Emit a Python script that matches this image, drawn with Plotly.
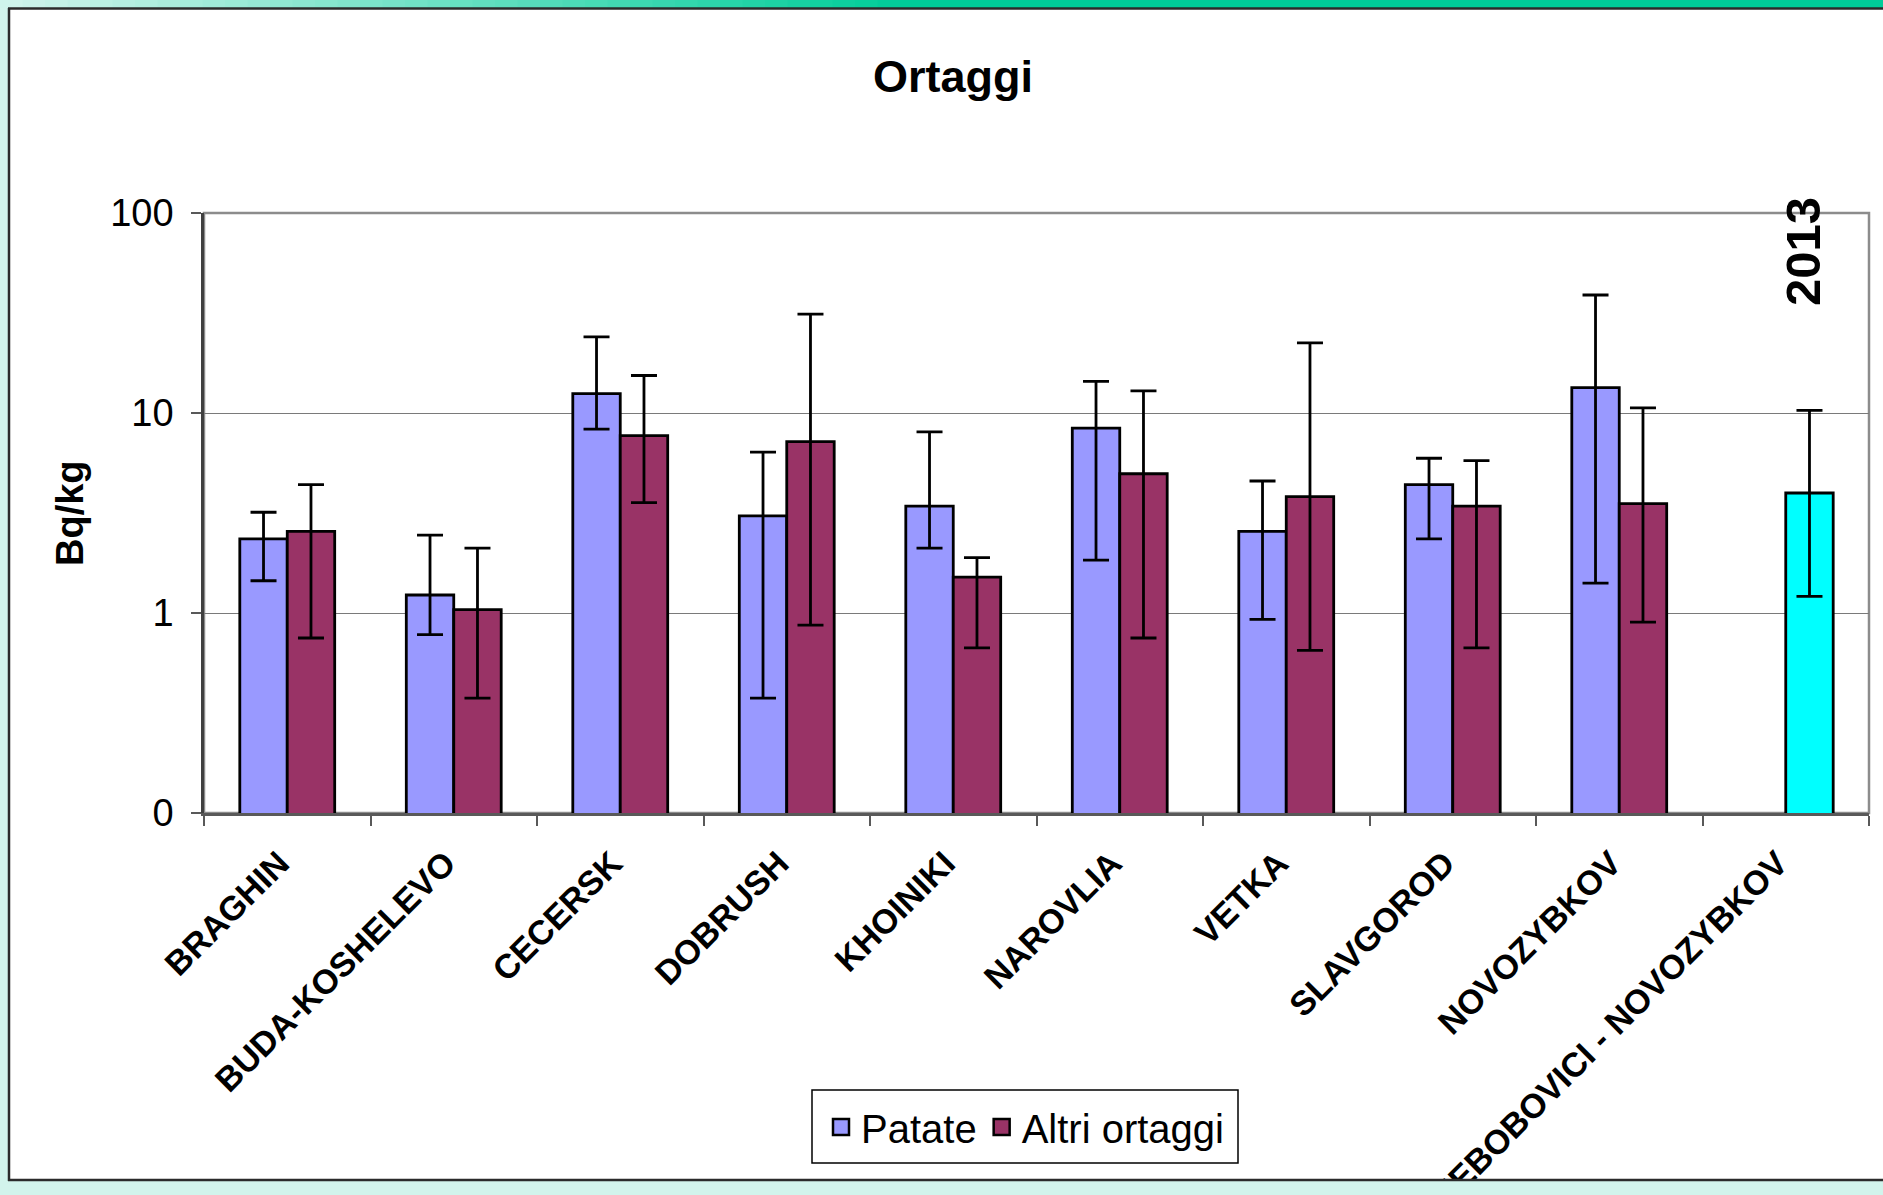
import plotly.graph_objects as go

categories = ["BRAGHIN", "BUDA-KOSHELEVO", "CECERSK", "DOBRUSH", "KHOINIKI",
              "NAROVLIA", "VETKA", "SLAVGOROD", "NOVOZYBKOV",
              "NIEBOBOVICI - NOVOZYBKOV"]

patate = [2.35, 1.23, 12.5, 3.06, 3.42, 8.4, 2.56, 4.38, 13.4, None]
patate_hi = [3.19, 2.45, 24.0, 6.37, 8.05, 14.4, 4.57, 5.94, 38.9, None]
patate_lo = [1.45, 0.78, 8.3, 0.375, 2.11, 1.84, 0.93, 2.35, 1.41, None]

altri = [2.56, 1.04, 7.7, 7.2, 1.51, 4.97, 3.82, 3.42, 3.52, 3.98]
altri_hi = [4.38, 2.11, 15.4, 31.2, 1.89, 12.9, 22.4, 5.78, 10.6, 10.3]
altri_lo = [0.75, 0.375, 3.56, 0.87, 0.67, 0.75, 0.65, 0.67, 0.9, 1.21]

altri_colors = ["#993366"] * 9 + ["#00FFFF"]

series_names = ["Patate", "Altri ortaggi"]
series_colors = ["#9999FF", "#993366"]

y_tickvals = [0.1, 1, 10, 100]
y_ticktext = ["0", "1", "10", "100"]

FONT = "Liberation Sans, Arial, sans-serif"
W, H = 1883, 1195
ML, MR, MT, MB = 204, 14, 213, 382
PW, PH = W - ML - MR, H - MT - MB


def fx(px):
    return (px - ML) / PW


def fy(py):
    return (H - MB - py) / PH


def plus(v, hi):
    return [(h - a) if a is not None else 0 for a, h in zip(v, hi)]


def minus(v, lo):
    return [(a - l) if a is not None else 0 for a, l in zip(v, lo)]


fig = go.Figure()
fig.add_trace(go.Bar(
    name=series_names[0], x=categories, y=patate, showlegend=False,
    marker=dict(color=series_colors[0], line=dict(color="black", width=2.8)),
    error_y=dict(type="data", symmetric=False,
                 array=plus(patate, patate_hi),
                 arrayminus=minus(patate, patate_lo),
                 color="black", thickness=2.8, width=13),
))
fig.add_trace(go.Bar(
    name=series_names[1], x=categories, y=altri, showlegend=False,
    marker=dict(color=altri_colors, line=dict(color="black", width=2.8)),
    error_y=dict(type="data", symmetric=False,
                 array=plus(altri, altri_hi),
                 arrayminus=minus(altri, altri_lo),
                 color="black", thickness=2.8, width=13),
))
# legend entries (square swatches like the original)
for nm, col in zip(series_names, series_colors):
    fig.add_trace(go.Scatter(
        name=nm, x=[None], y=[None], mode="markers", showlegend=True,
        marker=dict(symbol="square", size=16, color=col,
                    line=dict(color="black", width=2.5)),
    ))

shapes = []
# plot-area border (top/right in gray)
shapes.append(dict(type="rect", xref="x domain", yref="y domain",
                   x0=0, x1=1, y0=0, y1=1,
                   line=dict(color="#8C8C8C", width=2.5), layer="below"))
# legend box
shapes.append(dict(type="rect", xref="paper", yref="paper",
                   x0=fx(812), x1=fx(1238), y0=fy(1163), y1=fy(1090),
                   fillcolor="white", line=dict(color="black", width=1.5),
                   layer="below"))
# left mint strip
shapes.append(dict(type="rect", xref="paper", yref="paper",
                   x0=fx(-5), x1=fx(8), y0=fy(H + 5), y1=fy(-5),
                   fillcolor="#D2F4EC", line=dict(width=0), layer="above"))
# bottom mint strip (clips long labels)
shapes.append(dict(type="rect", xref="paper", yref="paper",
                   x0=fx(-5), x1=fx(W + 5), y0=fy(H + 10), y1=fy(1180),
                   fillcolor="#D2F4EC", line=dict(width=0), layer="above"))
# top gradient bar (decoration)
n_seg = 40
grad_end = 900
c0 = (0xD2, 0xF4, 0xEC)
c1 = (0x00, 0xCC, 0x99)
for i in range(n_seg):
    t = (i + 0.5) / n_seg
    col = "rgb(%d,%d,%d)" % tuple(round(a + (b - a) * t) for a, b in zip(c0, c1))
    shapes.append(dict(type="rect", xref="paper", yref="paper",
                       x0=fx(grad_end * i / n_seg), x1=fx(grad_end * (i + 1) / n_seg + 1),
                       y0=fy(8), y1=fy(-5), fillcolor=col, line=dict(width=0),
                       layer="above"))
shapes.append(dict(type="rect", xref="paper", yref="paper",
                   x0=fx(grad_end), x1=fx(W + 5), y0=fy(8), y1=fy(-5),
                   fillcolor="#00CC99", line=dict(width=0), layer="above"))
# frame lines
shapes.append(dict(type="line", xref="paper", yref="paper",
                   x0=fx(8), x1=fx(W + 5), y0=fy(8.5), y1=fy(8.5),
                   line=dict(color="#2B2B2B", width=2.5), layer="above"))
shapes.append(dict(type="line", xref="paper", yref="paper",
                   x0=fx(9), x1=fx(9), y0=fy(8), y1=fy(1181),
                   line=dict(color="#2B2B2B", width=2.5), layer="above"))
shapes.append(dict(type="line", xref="paper", yref="paper",
                   x0=fx(8), x1=fx(W + 5), y0=fy(1180), y1=fy(1180),
                   line=dict(color="#2B2B2B", width=2.5), layer="above"))

annotations = [
    dict(text="Bq/kg", xref="paper", yref="paper", x=fx(70), y=fy(513),
         textangle=-90, showarrow=False, xanchor="center", yanchor="middle",
         font=dict(family=FONT, size=38, color="black", weight="bold")),
    dict(text="2013", xref="paper", yref="paper", x=fx(1803), y=fy(252),
         textangle=-90, showarrow=False, xanchor="center", yanchor="middle",
         font=dict(family=FONT, size=49, color="black", weight="bold")),
]

fig.update_layout(
    width=W, height=H, autosize=False,
    margin=dict(l=ML, r=MR, t=MT, b=MB, pad=0, autoexpand=False),
    paper_bgcolor="white", plot_bgcolor="white",
    barmode="group", bargap=0.43, bargroupgap=0,
    title=dict(text="Ortaggi", x=953 / W, y=1 - 76 / H,
               xanchor="center", yanchor="middle",
               font=dict(family=FONT, size=45, color="black", weight="bold")),
    font=dict(family=FONT, color="black"),
    showlegend=True,
    legend=dict(orientation="h", x=fx(1025), y=fy(1127),
                xanchor="center", yanchor="middle",
                bgcolor="rgba(0,0,0,0)", borderwidth=0,
                font=dict(family=FONT, size=40, color="black"),
                itemsizing="trace", tracegroupgap=0),
    shapes=shapes,
    annotations=annotations,
)

fig.update_xaxes(
    type="category", tickangle=-45, automargin=False,
    tickfont=dict(family=FONT, size=34, color="black", weight="bold"),
    ticks="outside", tickson="boundaries", ticklen=10, tickcolor="#595959",
    tickwidth=1.5, ticklabelstandoff=14, ticklabelshift=-8,
    showline=True, linecolor="#595959", linewidth=2.5,
    showgrid=False, range=[-0.5, 9.5],
)
fig.update_yaxes(
    type="log", range=[-1, 2], automargin=False,
    tickvals=y_tickvals, ticktext=y_ticktext,
    tickfont=dict(family=FONT, size=38, color="black"),
    ticks="outside", ticklen=10, tickcolor="#595959", tickwidth=1.5,
    ticklabelstandoff=10,
    showline=True, linecolor="#404040", linewidth=2.5,
    showgrid=True, gridcolor="#7A7A7A", gridwidth=1.2,
    zeroline=False,
)

fig.write_html(
    "out.html",
    config={"displayModeBar": False, "responsive": False},
    post_script="document.body.style.margin='0';document.body.style.overflow='hidden';",
)
